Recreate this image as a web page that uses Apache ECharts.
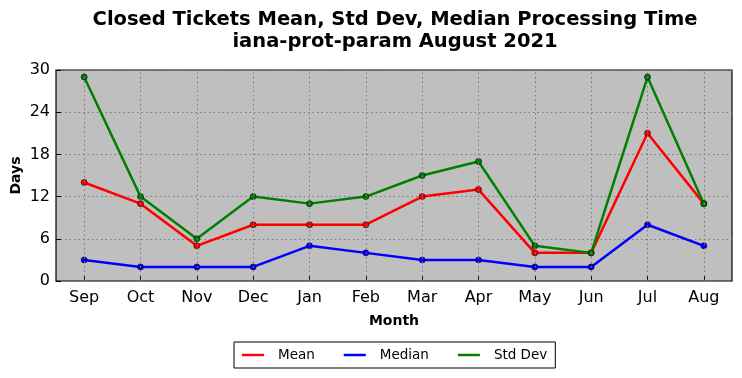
<!DOCTYPE html>
<html><head><meta charset="utf-8">
<script src="https://cdn.jsdelivr.net/npm/echarts@6/dist/echarts.min.js"></script>
<style>html,body{margin:0;padding:0;background:#fff}#c{width:742px;height:378px}</style>
</head><body><div id="c"></div>
<script>
const months = ['Sep','Oct','Nov','Dec','Jan','Feb','Mar','Apr','May','Jun','Jul','Aug'];
const meanVals = [14,11,5,8,8,8,12,13,4,4,21,11];
const medianVals = [3,2,2,2,5,4,3,3,2,2,8,5];
const stdVals = [29,12,6,12,11,12,15,17,5,4,29,11];
const yTicks = [0,6,12,18,24,30];

const font = 'DejaVu Sans';
const chart = echarts.init(document.getElementById('c'));
function mk(name, data, color){
  return {name, type:'line', data, color,
    lineStyle:{color, width:2.5},
    symbol:'circle', symbolSize:6,
    itemStyle:{color, borderColor:'#000', borderWidth:0.6},
    emphasis:{disabled:true}, animation:false, z:3};
}
const series = [mk('Mean',meanVals,'#ff0000'), mk('Median',medianVals,'#0000ff'), mk('Std Dev',stdVals,'#008000')];
// vertical dotted grid lines at category positions
series.push({type:'line', data:[], silent:true, z:1,
  markLine:{silent:true, symbol:['none','none'], label:{show:false}, animation:false,
    lineStyle:{color:'#7a7a7a', type:[1.5,3], width:1},
    data: months.map(m=>({xAxis:m}))}});
chart.setOption({
  animation:false,
  title:{text:'Closed Tickets Mean, Std Dev, Median Processing Time\niana-prot-param August 2021',
    left:390, textAlign:'center', top:4,
    textStyle:{fontFamily:font, fontSize:19.5, fontWeight:'bold', color:'#000', lineHeight:22}},
  grid:{left:56, right:10, top:70, bottom:97, show:true, backgroundColor:'#bfbfbf', borderColor:'#000', borderWidth:1.2, containLabel:false, outerBoundsMode:'none'},
  legend:{bottom:10, left:234,
    data:['Mean','Median','Std Dev'],
    icon:'rect', itemWidth:22, itemHeight:2.5, itemGap:29,
    itemStyle:{borderWidth:0},
    padding:[6,8,6,8],
    borderColor:'#000', borderWidth:1, borderRadius:0,
    textStyle:{fontFamily:font, fontSize:13.5, color:'#000', padding:[0,0,0,9]}},
  xAxis:{type:'category', data:months, boundaryGap:true,
    name:'Month', nameLocation:'middle', nameGap:33, nameMoveOverlap:false,
    nameTextStyle:{fontFamily:font, fontSize:14, fontWeight:'bold', color:'#000'},
    axisLine:{show:false},
    axisTick:{show:true, inside:true, alignWithLabel:true, length:5, lineStyle:{color:'#000'}},
    axisLabel:{fontFamily:font, fontSize:16, color:'#000', margin:9},
    splitLine:{show:false}},
  yAxis:{type:'value', min:0, max:30, interval:6,
    name:'Days', nameLocation:'middle', nameGap:33, nameRotate:90, nameMoveOverlap:false,
    nameTextStyle:{fontFamily:font, fontSize:14, fontWeight:'bold', color:'#000'},
    axisLine:{show:false},
    axisTick:{show:true, inside:true, length:5, lineStyle:{color:'#000'}},
    axisLabel:{fontFamily:font, fontSize:16, color:'#000', margin:6,
      formatter:v=>yTicks.includes(v)?String(v):''},
    splitLine:{show:true, lineStyle:{color:'#7a7a7a', type:[1.5,3], width:1}}},
  series
});
</script></body></html>
